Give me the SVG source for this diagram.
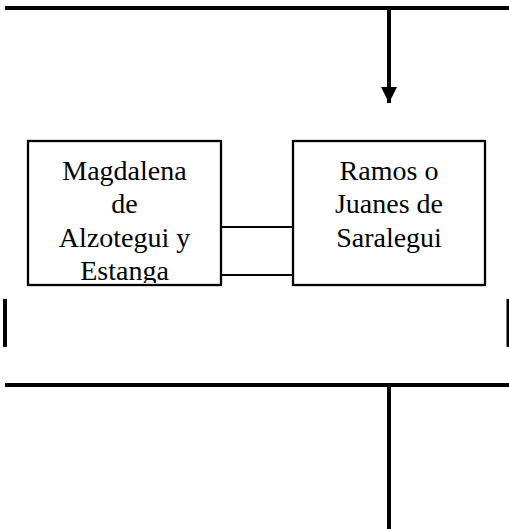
<svg xmlns="http://www.w3.org/2000/svg" width="509" height="529" viewBox="0 0 509 529">
<style>
.box{fill:#fff;stroke:#000;stroke-width:2.3}
.thick{stroke:#000;stroke-width:4;fill:none}
.thin{stroke:#000;stroke-width:1.8;fill:none}
.t{font-family:"Times New Roman","Liberation Serif",Tinos,"DejaVu Serif",serif;font-size:28px;fill:#000;text-anchor:middle}
</style>
<defs>
<marker id="ah" markerUnits="userSpaceOnUse" markerWidth="16" markerHeight="16" refX="16" refY="8" orient="auto" viewBox="0 0 16 16">
<path d="M0,0 L16,8 L0,16 Z" fill="#000"/>
</marker>
<clipPath id="c1"><rect x="29" y="142" width="191" height="141"/></clipPath>
</defs>
<g id="connectors">
<line class="thick" x1="5" y1="8" x2="509" y2="8"/>
<line class="thick" x1="389" y1="8" x2="389" y2="103" marker-end="url(#ah)"/>
<line class="thin" x1="221" y1="227" x2="293" y2="227"/>
<line class="thin" x1="221" y1="275" x2="293" y2="275"/>
<line class="thick" x1="5" y1="299" x2="5" y2="347"/>
<line class="thick" x1="508.5" y1="299" x2="508.5" y2="347"/>
<line class="thick" x1="5" y1="385" x2="509" y2="385"/>
<line class="thick" x1="389" y1="385" x2="389" y2="529"/>
</g>
<g id="node-magdalena">
<rect class="box" x="28" y="141" width="193" height="144"/>
<g clip-path="url(#c1)">
<text class="t" x="124.5" y="179.5">Magdalena</text>
<text class="t" x="124.5" y="213">de</text>
<text class="t" x="124.5" y="246.5">Alzotegui y</text>
<text class="t" x="124.5" y="280">Estanga</text>
</g>
</g>
<g id="node-ramos">
<rect class="box" x="293" y="141" width="192" height="144"/>
<text class="t" x="389" y="179.5">Ramos o</text>
<text class="t" x="389" y="213">Juanes de</text>
<text class="t" x="389" y="246.5">Saralegui</text>
</g>
</svg>
